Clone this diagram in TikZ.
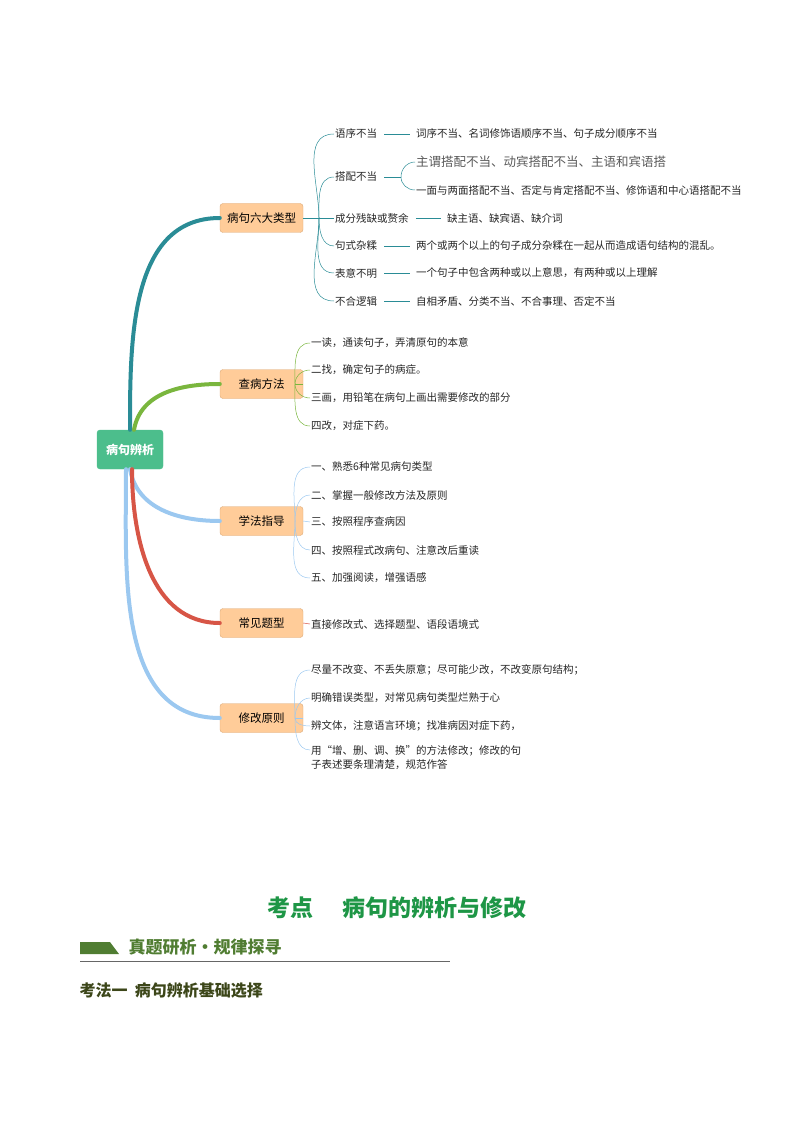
\documentclass[tikz,border=0pt]{standalone}
\usepackage{fontspec}
\setmainfont{Noto Sans CJK SC}
\usetikzlibrary{positioning}
\definecolor{rootgreen}{RGB}{76,190,140}
\definecolor{boxfill}{RGB}{255,204,153}
\definecolor{boxdraw}{RGB}{220,170,120}
\definecolor{cteal}{RGB}{42,140,150}
\definecolor{cgreen}{RGB}{122,182,62}
\definecolor{cblue}{RGB}{155,200,240}
\definecolor{cred}{RGB}{215,85,70}
\definecolor{titlegreen}{RGB}{30,150,70}
\definecolor{bargreen}{RGB}{80,125,50}
\definecolor{olivedark}{RGB}{60,70,25}
\begin{document}
\begin{tikzpicture}[x=1pt, y=1pt,
  rootbox/.style={draw=rootgreen, fill=rootgreen, rounded corners=3pt, text=white, font=\fontsize{12}{12}\selectfont\bfseries, minimum width=66pt, minimum height=39pt},
  catbox/.style={draw=boxdraw, fill=boxfill, rounded corners=3pt, font=\fontsize{11.5}{12}\selectfont, minimum width=83pt, minimum height=29pt, inner sep=2pt},
  item/.style={anchor=west, inner sep=1pt, font=\fontsize{10.5}{14}\selectfont, text=black!85},
  branch/.style={line width=4pt, line cap=round},
  twig/.style={line width=0.5pt}]
  \useasboundingbox (0,0) rectangle (794,-1123);

  % root and categories
  \node[rootbox] (root) at (130,-449.5) {病句辨析};
  \node[catbox] (types) at (261.5,-218) {病句六大类型};
  \node[catbox] (check) at (261.5,-384) {查病方法};
  \node[catbox] (guide) at (261.5,-521) {学法指导};
  \node[catbox] (forms) at (261.5,-623) {常见题型};
  \node[catbox] (fix) at (261.5,-718) {修改原则};

  % main branches
  \draw[branch, cteal] (root.north) to[out=90, in=180] (types.west);
  \draw[branch, cgreen] ([xshift=4pt]root.north) to[out=80, in=180] (check.west);
  \draw[branch, cblue] (root.south) to[out=-80, in=180] (guide.west);
  \draw[branch, cred] ([xshift=2pt]root.south) to[out=-90, in=180] (forms.west);
  \draw[branch, cblue] ([xshift=-4pt]root.south) to[out=-90, in=180] (fix.west);

  % six types
  \node[item] (t1) at (334,-134) {语序不当};
  \node[item] (t2) at (334,-177) {搭配不当};
  \node[item] (t3) at (334,-218) {成分残缺或赘余};
  \node[item] (t4) at (334,-246) {句式杂糅};
  \node[item] (t5) at (334,-273) {表意不明};
  \node[item] (t6) at (334,-301) {不合逻辑};
  \node[item] (d1) at (415,-134) {词序不当、名词修饰语顺序不当、句子成分顺序不当};
  \node[item, text=black!65, font=\fontsize{12.5}{13}\selectfont] (d2a) at (415,-162) {主谓搭配不当、动宾搭配不当、主语和宾语搭};
  \node[item] (d2b) at (415,-190) {一面与两面搭配不当、否定与肯定搭配不当、修饰语和中心语搭配不当};
  \node[item] (d3) at (446,-218) {缺主语、缺宾语、缺介词};
  \node[item] (d4) at (415,-246) {两个或两个以上的句子成分杂糅在一起从而造成语句结构的混乱。};
  \node[item] (d5) at (415,-273) {一个句子中包含两种或以上意思，有两种或以上理解};
  \node[item] (d6) at (415,-301) {自相矛盾、分类不当、不合事理、否定不当};
  \coordinate (tj) at (319,-218);
  \draw[twig, cteal] (types.east) -- (t3.west);
  \foreach \t in {t1,t2}
    \draw[twig, cteal] (tj) to[out=90, in=180] (\t.west);
  \foreach \t in {t4,t5,t6}
    \draw[twig, cteal] (tj) to[out=-90, in=180] (\t.west);
  \foreach \t/\d in {t1/d1,t3/d3,t4/d4,t5/d5,t6/d6}
    \draw[twig, cteal, shorten <=6pt, shorten >=5pt] (\t.east) -- (\d.west);
  \coordinate (pj) at (401,-177);
  \draw[twig, cteal, shorten <=6pt] (t2.east) -- (pj);
  \draw[twig, cteal] (pj) to[out=90, in=180] (d2a.west);
  \draw[twig, cteal] (pj) to[out=-90, in=180] (d2b.west);

  % checking method
  \node[item] (c1) at (310,-343) {一读，通读句子，弄清原句的本意};
  \node[item] (c2) at (310,-370) {二找，确定句子的病症。};
  \node[item] (c3) at (310,-398) {三画，用铅笔在病句上画出需要修改的部分};
  \node[item] (c4) at (310,-426) {四改，对症下药。};
  \coordinate (cj) at (295,-384);
  \draw[twig, cgreen] (check.east) -- (cj);
  \draw[twig, cgreen] (cj) to[out=90, in=180] (c1.west);
  \draw[twig, cgreen] (cj) to[out=90, in=180] (c2.west);
  \draw[twig, cgreen] (cj) to[out=-90, in=180] (c3.west);
  \draw[twig, cgreen] (cj) to[out=-90, in=180] (c4.west);

  % study guide
  \node[item] (g1) at (310,-467) {一、熟悉6种常见病句类型};
  \node[item] (g2) at (310,-495) {二、掌握一般修改方法及原则};
  \node[item] (g3) at (310,-522) {三、按照程序查病因};
  \node[item] (g4) at (310,-550) {四、按照程式改病句、注意改后重读};
  \node[item] (g5) at (310,-578) {五、加强阅读，增强语感};
  \coordinate (gj) at (295,-521);
  \draw[twig, cblue] (guide.east) -- (g3.west);
  \draw[twig, cblue] (gj) to[out=90, in=180] (g1.west);
  \draw[twig, cblue] (gj) to[out=90, in=180] (g2.west);
  \draw[twig, cblue] (gj) to[out=-90, in=180] (g4.west);
  \draw[twig, cblue] (gj) to[out=-90, in=180] (g5.west);

  % common forms
  \node[item] (f1) at (310,-624) {直接修改式、选择题型、语段语境式};
  \draw[twig, cred] (forms.east) -- (f1.west);

  % fixing principles
  \node[item] (x1) at (310,-670) {尽量不改变、不丢失原意；尽可能少改，不改变原句结构；};
  \node[item] (x2) at (310,-698) {明确错误类型，对常见病句类型烂熟于心};
  \node[item] (x3) at (310,-726) {辨文体，注意语言环境；找准病因对症下药，};
  \node[item, align=left] (x4) at (310,-758) {用“增、删、调、换”的方法修改；修改的句\\子表述要条理清楚，规范作答};
  \coordinate (xj) at (295,-718);
  \draw[twig, cblue] (fix.east) -- (xj);
  \draw[twig, cblue] (xj) to[out=90, in=180] (x1.west);
  \draw[twig, cblue] (xj) to[out=90, in=180] (x2.west);
  \draw[twig, cblue] (xj) to[out=-90, in=180] (x3.west);
  \draw[twig, cblue] (xj) to[out=-90, in=180] ([yshift=8pt]x4.west);

  % heading below
  \node[text=titlegreen, font=\fontsize{23}{24}\selectfont\bfseries] (title) at (397,-908) {考点\quad\ 病句的辨析与修改};
  \fill[bargreen] (80,-954) -- (80,-942) -- (110,-942) -- (119,-954) -- cycle;
  \node[anchor=west, text=bargreen, font=\fontsize{17}{18}\selectfont\bfseries] (study) at (125,-947) {真题研析·规律探寻};
  \draw[black!60, line width=0.8pt] (80,-961) -- (450,-961);
  \node[anchor=west, text=olivedark, font=\fontsize{16}{17}\selectfont\bfseries] (method) at (76,-990) {考法一\ \ 病句辨析基础选择};
\end{tikzpicture}
\end{document}
